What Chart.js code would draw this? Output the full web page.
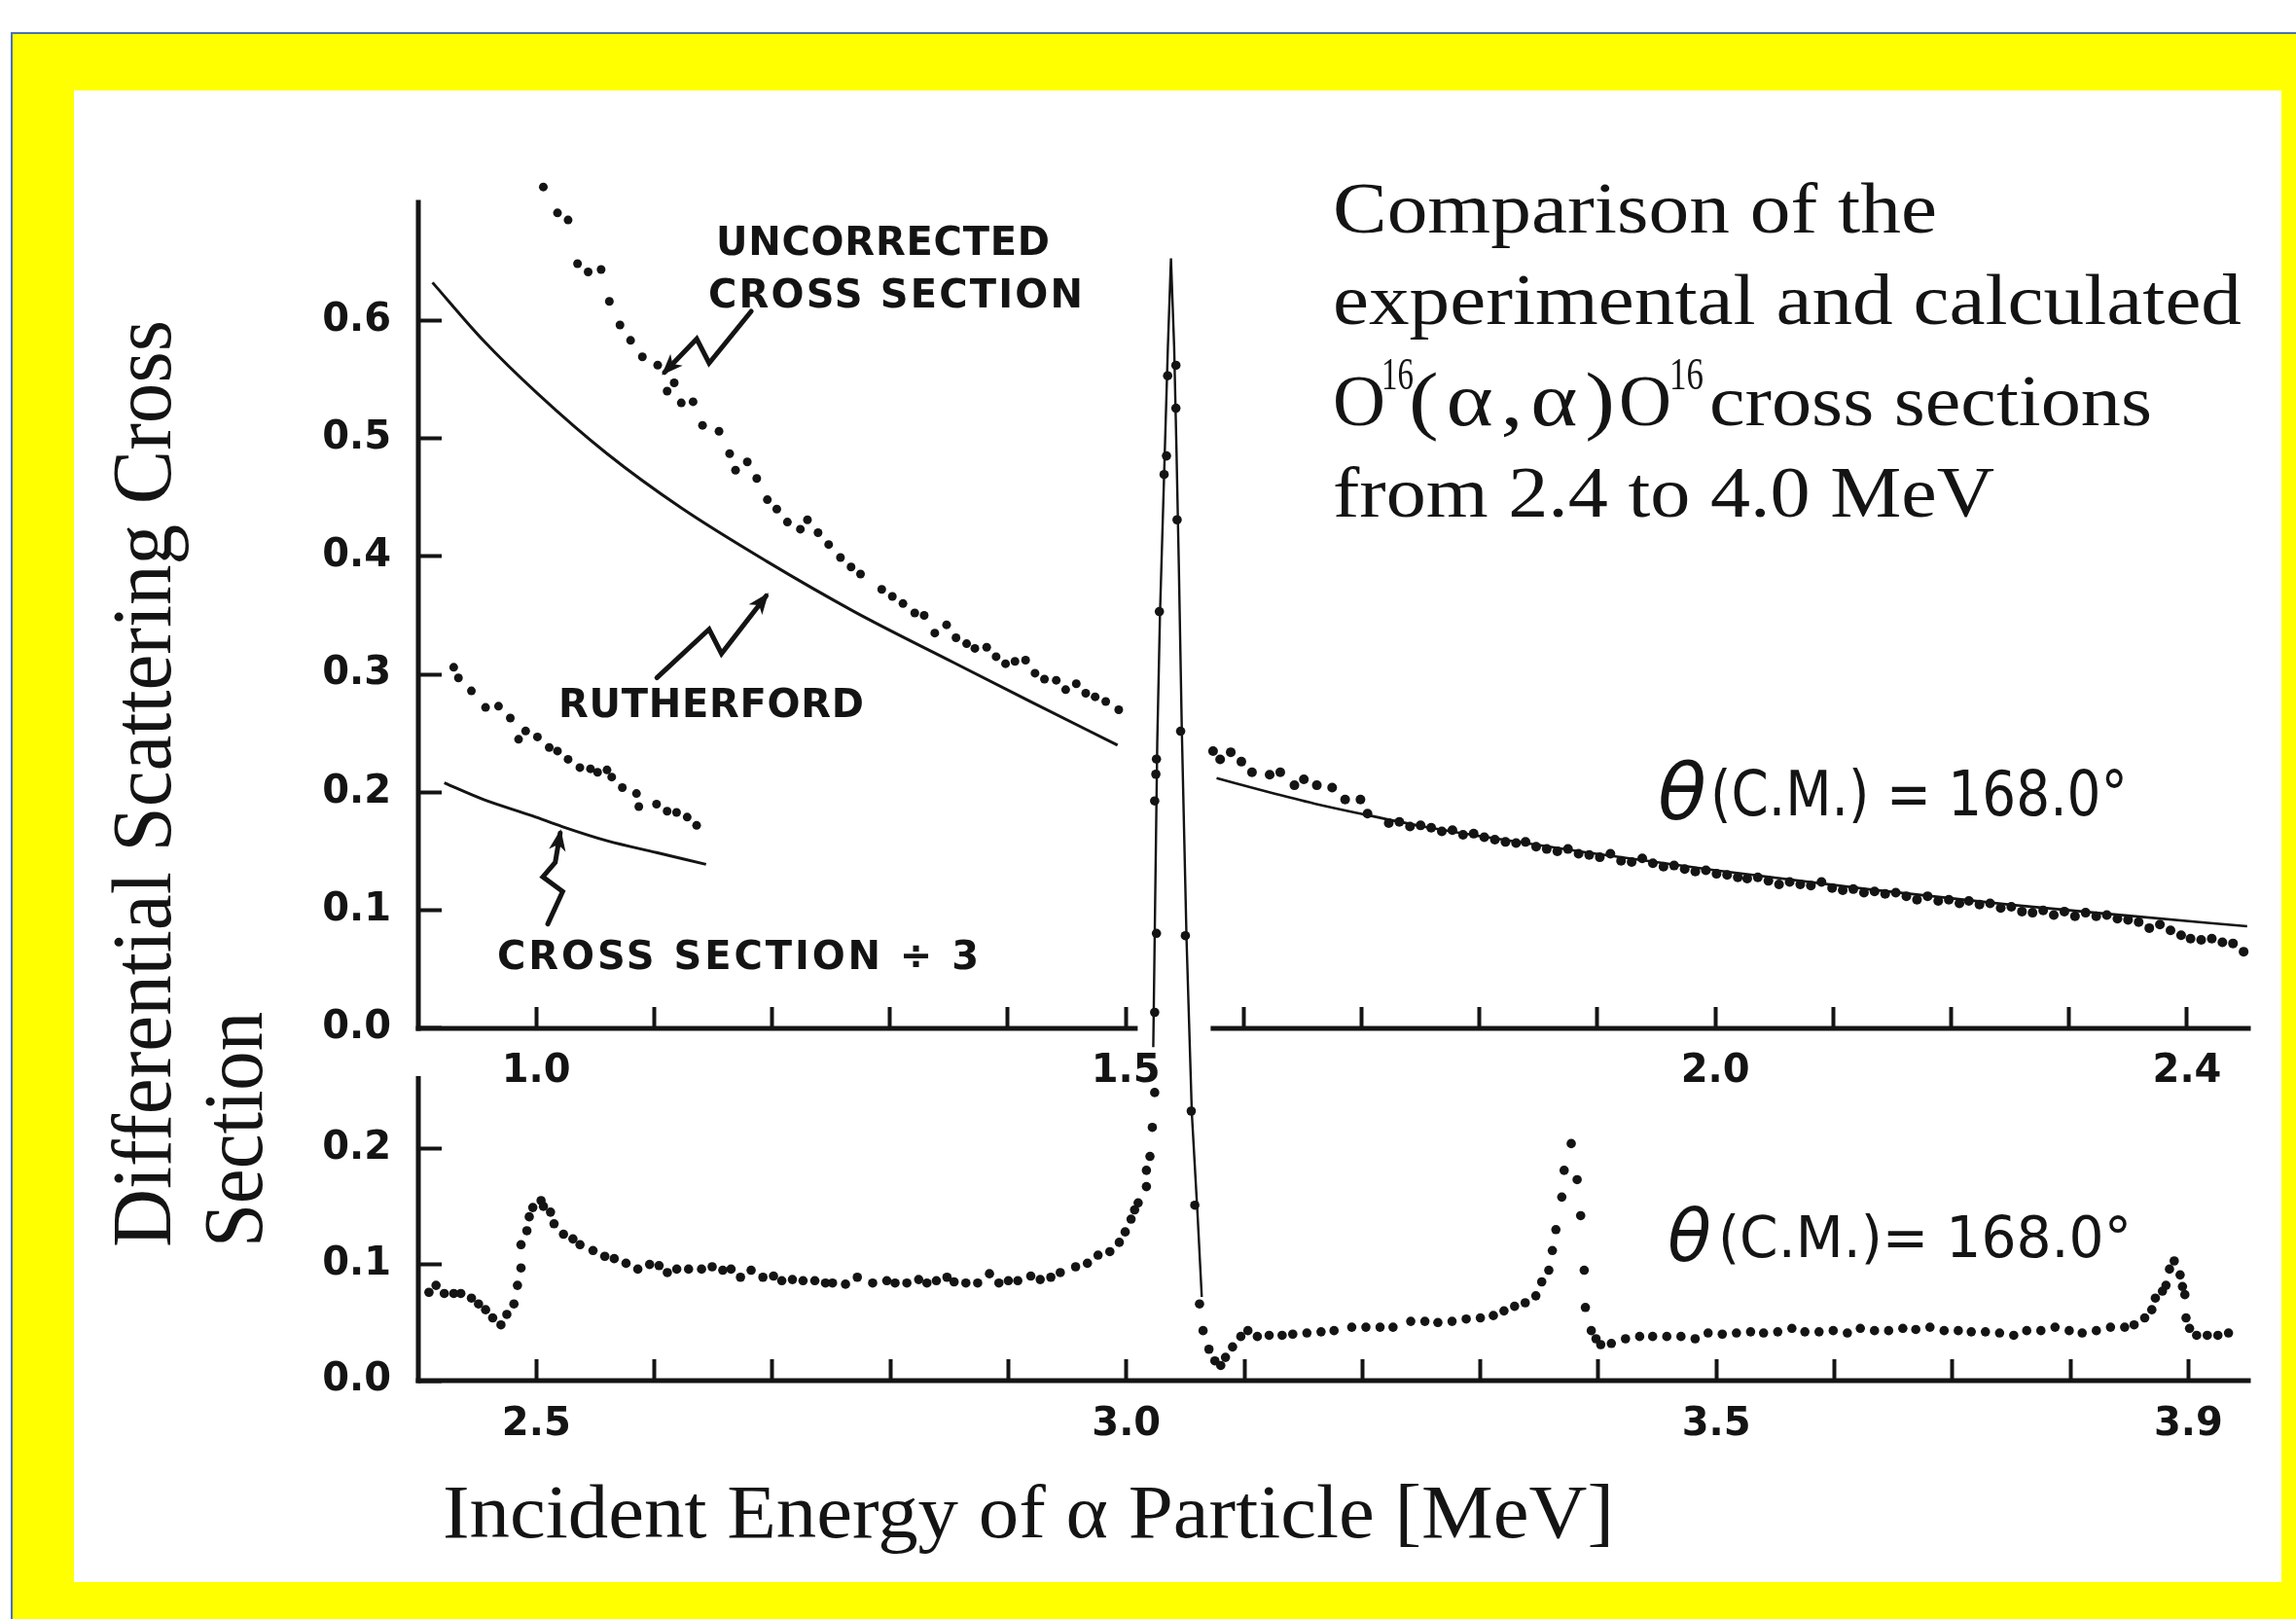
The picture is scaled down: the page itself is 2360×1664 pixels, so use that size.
<!DOCTYPE html>
<html>
<head>
<meta charset="utf-8">
<title>O16(α,α)O16 cross sections</title>
<script src="https://cdn.jsdelivr.net/npm/chart.js@4.4.1/dist/chart.umd.min.js"></script>
<style>
  html, body { margin: 0; padding: 0; width: 2360px; height: 1664px; overflow: hidden; background: #ffffff; }
  #frame { position: absolute; left: 11px; top: 33px; width: 2400px; height: 1700px; background: #ffff00; border: 2px solid #4a72b8; box-sizing: border-box; }
  #panel { position: absolute; left: 76px; top: 93px; width: 2269px; height: 1533px; background: #ffffff; }
  #plot { position: absolute; left: 0; top: 0; }
</style>
</head>
<body>
<div id="frame"></div>
<div id="panel"></div>
<canvas id="plot" width="2360" height="1664"></canvas>
<script>
// ---------- Upper panel: 0.9 – 2.45 MeV ----------
// Uncorrected cross section (dots)
const uncorrectedE = [1.006,1.018,1.027,1.035,1.044,1.055,1.062,1.071,1.080,1.090,1.103,1.111,1.117,1.123,1.133,1.141,1.155,1.164,1.169,1.179,1.187,1.196,1.204,1.213,1.224,1.230,1.239,1.248,1.258,1.267,1.275,1.293,1.302,1.311,1.321,1.329,1.338,1.348,1.356,1.365,1.372,1.382,1.390,1.398,1.406,1.415,1.423,1.431,1.441,1.449,1.458,1.466,1.474,1.483,1.494];
const uncorrectedS = [0.713,0.691,0.685,0.648,0.641,0.643,0.616,0.596,0.583,0.569,0.562,0.540,0.547,0.530,0.531,0.511,0.506,0.487,0.473,0.480,0.466,0.448,0.440,0.429,0.423,0.431,0.420,0.410,0.399,0.391,0.385,0.372,0.366,0.360,0.352,0.350,0.335,0.342,0.331,0.326,0.322,0.323,0.315,0.309,0.311,0.312,0.301,0.296,0.295,0.287,0.292,0.284,0.281,0.277,0.270];
// Rutherford curve, low-energy part
const rutherfordLowE = [0.912,0.955,1.001,1.060,1.123,1.195,1.270,1.354,1.418,1.493];
const rutherfordLowS = [0.632,0.583,0.538,0.487,0.441,0.396,0.353,0.310,0.2775,0.240];
// Cross section divided by 3 (dots) and Rutherford divided by 3 (curve)
const thirdE = [0.930,0.934,0.945,0.957,0.968,0.978,0.985,0.991,1.001,1.011,1.018,1.027,1.037,1.046,1.052,1.060,1.064,1.073,1.085,1.087,1.102,1.111,1.119,1.128,1.136];
const thirdS = [0.306,0.297,0.286,0.272,0.273,0.263,0.245,0.252,0.247,0.238,0.235,0.228,0.221,0.220,0.217,0.219,0.213,0.204,0.199,0.188,0.190,0.184,0.183,0.179,0.172];
const rutherfordThirdE = [0.922,0.955,0.997,1.022,1.060,1.102,1.144];
const rutherfordThirdS = [0.208,0.194,0.180,0.171,0.159,0.149,0.139];
// Measured cross section above the resonance (dots) and Rutherford curve
const highE = [1.574,1.580,1.589,1.598,1.607,1.622,1.631,1.643,1.651,1.662,1.675,1.686,1.699,1.705,1.723,1.732,1.741,1.750,1.759,1.768,1.777,1.786,1.795,1.804,1.813,1.822,1.831,1.839,1.848,1.857,1.866,1.875,1.884,1.893,1.902,1.911,1.920,1.929,1.938,1.947,1.956,1.965,1.974,1.983,1.992,2.001,2.010,2.019,2.027,2.036,2.045,2.054,2.063,2.072,2.081,2.090,2.099,2.108,2.117,2.126,2.135,2.144,2.153,2.162,2.171,2.180,2.189,2.198,2.207,2.215,2.224,2.233,2.242,2.251,2.260,2.269,2.278,2.287,2.296,2.305,2.314,2.323,2.332,2.341,2.350,2.359,2.368,2.377,2.386,2.395,2.403,2.412,2.421,2.430,2.439,2.448];
const highS = [0.235,0.228,0.234,0.226,0.217,0.215,0.217,0.206,0.211,0.206,0.204,0.194,0.194,0.182,0.174,0.175,0.171,0.172,0.170,0.167,0.168,0.164,0.165,0.162,0.160,0.158,0.157,0.158,0.154,0.152,0.150,0.152,0.148,0.147,0.145,0.148,0.142,0.141,0.144,0.140,0.137,0.138,0.135,0.133,0.134,0.131,0.130,0.128,0.127,0.128,0.125,0.122,0.124,0.122,0.121,0.124,0.119,0.117,0.118,0.115,0.116,0.114,0.115,0.112,0.109,0.112,0.108,0.109,0.106,0.108,0.105,0.106,0.102,0.103,0.099,0.098,0.100,0.096,0.099,0.095,0.098,0.095,0.096,0.093,0.092,0.090,0.085,0.088,0.083,0.079,0.076,0.075,0.076,0.073,0.072,0.065];
const rutherfordHighE = [1.577,1.620,1.660,1.699,1.750,1.800,1.890,2.000,2.129,2.250,2.350,2.451];
const rutherfordHighS = [0.2120,0.2005,0.1905,0.1820,0.1715,0.1630,0.1492,0.1340,0.1180,0.1048,0.0955,0.0865];

// ---------- Lower panel: 2.4 – 3.95 MeV ----------
const lowerE = [2.409,2.415,2.422,2.430,2.436,2.445,2.451,2.457,2.463,2.470,2.475,2.481,2.484,2.487,2.487,2.492,2.494,2.497,2.504,2.506,2.512,2.515,2.523,2.531,2.537,2.548,2.558,2.566,2.576,2.586,2.596,2.604,2.611,2.619,2.629,2.640,2.649,2.658,2.665,2.673,2.682,2.692,2.701,2.708,2.717,2.726,2.736,2.745,2.751,2.762,2.772,2.785,2.797,2.804,2.814,2.824,2.831,2.839,2.848,2.854,2.864,2.874,2.884,2.892,2.900,2.908,2.919,2.927,2.936,2.944,2.957,2.967,2.976,2.986,2.994,2.999,3.004,3.007,3.010,3.017,3.017,3.020,3.022,
  3.024,3.024,3.0255,3.024,3.025,3.0255,3.028,3.032,3.034,3.035,
  3.042,3.042,3.043,3.046,3.050,3.055,3.058,3.062,3.065,3.070,3.075,3.080,3.084,3.090,3.097,3.103,3.111,3.121,3.132,3.141,3.153,3.165,3.176,3.191,3.203,3.215,3.226,3.241,3.253,3.264,3.276,3.288,3.300,3.311,3.320,3.329,3.338,3.347,3.352,3.358,3.361,3.364,3.369,3.371,3.377,3.382,3.385,3.388,3.389,3.394,3.398,3.402,3.411,3.423,3.435,3.446,3.458,3.470,3.482,3.493,3.505,3.517,3.529,3.540,3.552,3.564,3.575,3.587,3.599,3.611,3.622,3.634,3.646,3.658,3.669,3.681,3.693,3.705,3.716,3.728,3.740,3.752,3.763,3.775,3.787,3.799,3.810,3.822,3.834,3.846,3.854,3.863,3.869,3.872,3.878,3.881,3.884,3.888,3.893,3.895,3.897,3.898,3.901,3.907,3.916,3.925,3.934];
const lowerS = [0.076,0.082,0.075,0.075,0.075,0.071,0.066,0.061,0.054,0.048,0.057,0.066,0.082,0.097,0.117,0.129,0.141,0.149,0.155,0.150,0.145,0.135,0.126,0.122,0.117,0.112,0.107,0.105,0.101,0.096,0.100,0.099,0.093,0.096,0.096,0.096,0.098,0.095,0.096,0.089,0.095,0.089,0.090,0.086,0.087,0.086,0.086,0.084,0.084,0.083,0.089,0.084,0.086,0.084,0.084,0.087,0.084,0.086,0.089,0.085,0.084,0.084,0.092,0.084,0.086,0.086,0.090,0.087,0.089,0.093,0.098,0.101,0.108,0.111,0.119,0.128,0.139,0.147,0.153,0.167,0.181,0.193,0.218,
  0.248,0.317,0.385,0.499,0.522,0.535,0.662,0.780,0.796,0.865,
  0.874,0.837,0.741,0.559,0.383,0.232,0.151,0.066,0.043,0.027,0.017,0.013,0.020,0.029,0.038,0.043,0.038,0.039,0.039,0.040,0.041,0.042,0.043,0.046,0.046,0.046,0.046,0.051,0.051,0.050,0.051,0.053,0.054,0.056,0.060,0.064,0.067,0.073,0.085,0.095,0.112,0.130,0.158,0.181,0.204,0.173,0.142,0.095,0.063,0.043,0.036,0.031,0.032,0.036,0.038,0.038,0.038,0.038,0.036,0.041,0.040,0.041,0.042,0.041,0.042,0.045,0.042,0.042,0.043,0.041,0.045,0.043,0.043,0.045,0.044,0.046,0.043,0.043,0.042,0.042,0.041,0.039,0.043,0.043,0.046,0.043,0.041,0.043,0.046,0.046,0.048,0.054,0.061,0.071,0.077,0.082,0.096,0.103,0.091,0.081,0.074,0.054,0.045,0.039,0.039,0.039,0.041];
// Narrow resonance near 3.04 MeV drawn as a continuous curve
const resonanceE = [3.0228,3.0245,3.0262,3.0285,3.0320,3.0352,3.0378,3.0405,3.0425,3.0445,3.0470,3.0510,3.0555,3.0605,3.0639];
const resonanceS = [0.287,0.420,0.550,0.660,0.780,0.890,0.966,0.890,0.800,0.700,0.560,0.380,0.230,0.140,0.072];

// ---------- Axis ticks ----------
const upperTicksE = [1.0,1.1,1.2,1.3,1.4,1.5,1.6,1.7,1.8,1.9,2.0,2.1,2.2,2.3,2.4];
const upperLabelsE = [1.0,1.5,2.0,2.4];
const upperTicksS = [0.0,0.1,0.2,0.3,0.4,0.5,0.6];
const lowerTicksE = [2.5,2.6,2.7,2.8,2.9,3.0,3.1,3.2,3.3,3.4,3.5,3.6,3.7,3.8,3.9];
const lowerLabelsE = [2.5,3.0,3.5,3.9];
const lowerTicksS = [0.0,0.1,0.2];

// ---------- Styling / layout ----------
const INK = '#141414';
const LETTERING = '"DejaVu Sans", "Liberation Sans", sans-serif';
const SERIF = '"Liberation Serif", "DejaVu Serif", serif';
const TICK_FONT = { family: LETTERING, size: 40, weight: 'bold' };
const Y_LABEL_GAP = '\u2002\u2009';   // keeps the value labels clear of the vertical axes

const pairs = (xs, ys) => xs.map((x, i) => ({ x, y: ys[i] }));
const has = (list, v) => list.some(t => Math.abs(t - v) < 1e-6);
const tickSetter = list => scale => { scale.ticks = list.map(v => ({ value: v })); };

const dotStyle = { showLine: false, pointRadius: 4.5, pointHoverRadius: 4.5, pointBackgroundColor: INK, pointBorderWidth: 0, clip: false };
const curveStyle = { showLine: true, pointRadius: 0, borderColor: INK, borderWidth: 3, tension: 0.35, cubicInterpolationMode: 'monotone', clip: false };

const datasets = [
  { label: 'Uncorrected cross section', data: pairs(uncorrectedE, uncorrectedS), xAxisID: 'xt', yAxisID: 'yt', ...dotStyle },
  { label: 'Rutherford', data: pairs(rutherfordLowE, rutherfordLowS), xAxisID: 'xt', yAxisID: 'yt', ...curveStyle },
  { label: 'Cross section ÷ 3', data: pairs(thirdE, thirdS), xAxisID: 'xt', yAxisID: 'yt', ...dotStyle },
  { label: 'Rutherford ÷ 3', data: pairs(rutherfordThirdE, rutherfordThirdS), xAxisID: 'xt', yAxisID: 'yt', ...curveStyle },
  { label: 'Cross section 1.57–2.45 MeV', data: pairs(highE, highS), xAxisID: 'xt', yAxisID: 'yt', ...dotStyle, pointRadius: 5, pointHoverRadius: 5 },
  { label: 'Rutherford 1.57–2.45 MeV', data: pairs(rutherfordHighE, rutherfordHighS), xAxisID: 'xt', yAxisID: 'yt', ...curveStyle, borderWidth: 2.6 },
  { label: 'Cross section 2.4–3.95 MeV', data: pairs(lowerE, lowerS), xAxisID: 'xb', yAxisID: 'yb', ...dotStyle, pointRadius: 4.8, pointHoverRadius: 4.8 },
  { label: 'Resonance curve', data: pairs(resonanceE, resonanceS), xAxisID: 'xb', yAxisID: 'yb', ...curveStyle, borderWidth: 2.4, tension: 0, cubicInterpolationMode: 'default' }
];

const tickGrid = len => ({ display: true, drawOnChartArea: false, drawTicks: true, tickLength: len, tickWidth: 4, tickColor: INK });
const fmt = v => v.toFixed(1);

const scales = {
  xt: { type: 'linear', axis: 'x', min: 0.9, max: 2.452, position: { yt: 0 },
        afterBuildTicks: tickSetter(upperTicksE), grid: tickGrid(-22), border: { display: false },
        ticks: { font: TICK_FONT, color: INK, padding: 43, autoSkip: false, maxRotation: 0,
                 callback: v => has(upperLabelsE, v) ? fmt(v) : '' } },
  yt: { type: 'linear', axis: 'y', min: -0.29844, max: 0.72300, position: { xt: 0.9 },
        afterBuildTicks: tickSetter(upperTicksS), grid: tickGrid(-24), border: { display: false },
        ticks: { font: TICK_FONT, color: INK, padding: 26, autoSkip: false, callback: v => fmt(v) + Y_LABEL_GAP } },
  xb: { type: 'linear', axis: 'x', min: 2.4, max: 3.9508, position: { yb: 0 },
        afterBuildTicks: tickSetter(lowerTicksE), grid: tickGrid(-22), border: { display: false },
        ticks: { font: TICK_FONT, color: INK, padding: 44, autoSkip: false, maxRotation: 0,
                 callback: v => has(lowerLabelsE, v) ? fmt(v) : '' } },
  yb: { type: 'linear', axis: 'y', min: 0, max: 1.03769, position: { xb: 2.4 },
        afterBuildTicks: tickSetter(lowerTicksS), grid: tickGrid(-24), border: { display: false },
        ticks: { font: TICK_FONT, color: INK, padding: 26, autoSkip: false, callback: v => fmt(v) + Y_LABEL_GAP } }
};

// Axis lines (upper energy axis is broken where the resonance passes through)
const axisLines = {
  upperS: { at: 0.9, from: 0, to: 0.70 },
  upperE: [[0.9, 1.508], [1.574, 2.452]],
  lowerS: { at: 2.4, from: 0, to: 0.26 },
  lowerE: [[2.4, 3.9508]]
};

// Zig-zag pointers, in the data units of the upper panel
const pointers = [
  [[1.1823, 0.6076], [1.1466, 0.5637], [1.1361, 0.5843], [1.1087, 0.5559]],
  [[1.1023, 0.2971], [1.1466, 0.3382], [1.1571, 0.3176], [1.1950, 0.3665]],
  [[1.0098, 0.0885], [1.0224, 0.1160], [1.0056, 0.1284], [1.0161, 0.1407], [1.0203, 0.1655]]
];

function fitText(ctx, str, x, y, width, font) {
  ctx.save();
  ctx.font = font; ctx.textAlign = 'left'; ctx.textBaseline = 'alphabetic';
  const nat = ctx.measureText(str).width;
  ctx.translate(x, y); ctx.scale(width / nat, 1);
  ctx.fillText(str, 0, 0);
  ctx.restore();
}
function fitTextUp(ctx, str, x, y, length, font) {
  ctx.save();
  ctx.font = font; ctx.textAlign = 'left'; ctx.textBaseline = 'alphabetic';
  const nat = ctx.measureText(str).width;
  ctx.translate(x, y); ctx.rotate(-Math.PI / 2); ctx.scale(length / nat, 1);
  ctx.fillText(str, 0, 0);
  ctx.restore();
}
// widen glyphs by `stretch`, then share the remaining width out as letter spacing
function spacedText(ctx, str, x, y, width, font, stretch = 1) {
  ctx.save();
  ctx.font = font; ctx.textAlign = 'left'; ctx.textBaseline = 'alphabetic';
  const nat = ctx.measureText(str).width;
  const n = Array.from(str).length;
  ctx.translate(x, y); ctx.scale(stretch, 1);
  if ('letterSpacing' in ctx) {
    ctx.letterSpacing = ((width / stretch - nat) / (n - 1)).toFixed(2) + 'px';
    ctx.fillText(str, 0, 0);
  } else {
    ctx.scale(width / stretch / nat, 1); ctx.fillText(str, 0, 0);
  }
  ctx.restore();
}
function thetaLabel(ctx, x, baseline, thetaSize, thetaW, restX, restStr, restW, restSize) {
  ctx.save();
  ctx.fillStyle = INK;
  fitText(ctx, 'θ', x, baseline + 4, thetaW, `oblique ${thetaSize}px ${LETTERING}`);
  fitText(ctx, restStr, restX, baseline, restW, `${restSize}px ${LETTERING}`);
  ctx.restore();
}

const decorations = {
  id: 'decorations',
  beforeDatasetsDraw(chart) {
    const { ctx } = chart;
    const { xt, yt, xb, yb } = chart.scales;
    ctx.save();
    ctx.strokeStyle = INK; ctx.lineWidth = 5; ctx.lineCap = 'square';
    const seg = (x1, y1, x2, y2) => { ctx.beginPath(); ctx.moveTo(x1, y1); ctx.lineTo(x2, y2); ctx.stroke(); };
    const ux = xt.getPixelForValue(axisLines.upperS.at);
    seg(ux, yt.getPixelForValue(axisLines.upperS.from), ux, yt.getPixelForValue(axisLines.upperS.to));
    const uy = yt.getPixelForValue(0);
    axisLines.upperE.forEach(([a, b]) => seg(xt.getPixelForValue(a), uy, xt.getPixelForValue(b), uy));
    const lx = xb.getPixelForValue(axisLines.lowerS.at);
    seg(lx, yb.getPixelForValue(axisLines.lowerS.from), lx, yb.getPixelForValue(axisLines.lowerS.to));
    const ly = yb.getPixelForValue(0);
    axisLines.lowerE.forEach(([a, b]) => seg(xb.getPixelForValue(a), ly, xb.getPixelForValue(b), ly));
    ctx.restore();
  },
  afterDraw(chart) {
    const { ctx } = chart;
    const { xt, yt } = chart.scales;
    ctx.save();
    ctx.fillStyle = INK; ctx.strokeStyle = INK;

    // zig-zag pointers with arrow heads
    ctx.lineWidth = 5; ctx.lineJoin = 'miter'; ctx.lineCap = 'round';
    pointers.forEach(path => {
      const p = path.map(([e, s]) => [xt.getPixelForValue(e), yt.getPixelForValue(s)]);
      ctx.beginPath();
      p.forEach(([x, y], i) => i ? ctx.lineTo(x, y) : ctx.moveTo(x, y));
      ctx.stroke();
      const [x1, y1] = p[p.length - 2], [x2, y2] = p[p.length - 1];
      const a = Math.atan2(y2 - y1, x2 - x1), L = 20, w = 0.45;
      ctx.beginPath();
      ctx.moveTo(x2 + 4 * Math.cos(a), y2 + 4 * Math.sin(a));
      ctx.lineTo(x2 - L * Math.cos(a - w), y2 - L * Math.sin(a - w));
      ctx.lineTo(x2 - L * 0.6 * Math.cos(a), y2 - L * 0.6 * Math.sin(a));
      ctx.lineTo(x2 - L * Math.cos(a + w), y2 - L * Math.sin(a + w));
      ctx.closePath(); ctx.fill();
    });

    // curve labels
    const bold = `bold 40px ${LETTERING}`;
    spacedText(ctx, 'UNCORRECTED', 736, 262, 343, bold);
    spacedText(ctx, 'CROSS SECTION', 728, 316, 385, bold);
    spacedText(ctx, 'RUTHERFORD', 574, 737, 314, bold);
    spacedText(ctx, 'CROSS SECTION ÷ 3', 511, 996, 495, bold);

    // scattering angle labels
    thetaLabel(ctx, 1704, 838, 80, 50, 1758, '(C.M.) = 168.0°', 429, 64);
    thetaLabel(ctx, 1714, 1292, 74, 45, 1766, '(C.M.)= 168.0°', 425, 58);

    // caption block
    const cap = `74px ${SERIF}`, sup = `46px ${SERIF}`;
    fitText(ctx, 'Comparison of the', 1370, 239, 621, cap);
    fitText(ctx, 'experimental and calculated', 1370, 333, 934, cap);
    fitText(ctx, 'O', 1370, 437, 54, cap);
    fitText(ctx, '16', 1420, 400, 33, sup);
    spacedText(ctx, '(α,α)', 1448, 437, 212, `78px ${SERIF}`, 1.18);
    fitText(ctx, 'O', 1664, 437, 54, cap);
    fitText(ctx, '16', 1716, 400, 35, sup);
    fitText(ctx, 'cross sections', 1757, 437, 455, cap);
    fitText(ctx, 'from 2.4 to 4.0 MeV', 1370, 531, 680, cap);

    // axis titles
    fitTextUp(ctx, 'Differential Scattering Cross', 175, 1282, 953, `86px ${SERIF}`);
    fitTextUp(ctx, 'Section', 269, 1282, 242, `86px ${SERIF}`);
    fitText(ctx, 'Incident Energy of α Particle [MeV]', 455, 1580, 1204, `79px ${SERIF}`);
    ctx.restore();
  }
};

new Chart(document.getElementById('plot'), {
  type: 'scatter',
  data: { datasets },
  options: {
    responsive: false,
    devicePixelRatio: 1,
    animation: false,
    events: [],
    layout: { padding: { left: 430, right: 49, top: 180, bottom: 245 } },
    plugins: { legend: { display: false }, tooltip: { enabled: false }, title: { display: false } },
    scales
  },
  plugins: [decorations]
});
</script>
</body>
</html>
